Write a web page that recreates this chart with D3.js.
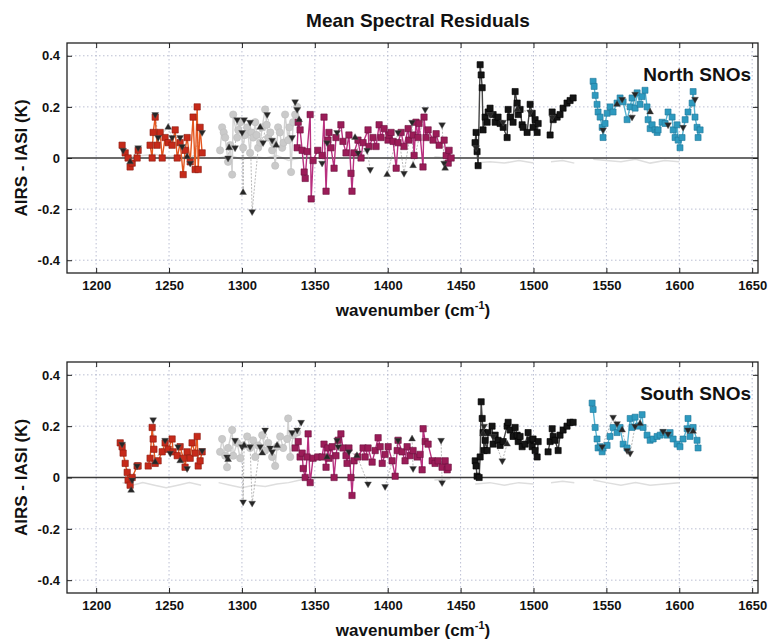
<!DOCTYPE html>
<html><head><meta charset="utf-8">
<script src="https://cdn.jsdelivr.net/npm/d3@7"></script>
<style>body{margin:0;background:#fff}</style>
</head><body><svg id="c" width="768" height="640"></svg>
<script>
// ---------- axes ----------
const xTicks = [1200,1250,1300,1350,1400,1450,1500,1550,1600,1650];
const yTicks = [0.4,0.2,0,-0.2,-0.4];
const yTickLabels = ["0.4","0.2","0","-0.2","-0.4"];
const titleText = "Mean Spectral Residuals";
const yLabelText = "AIRS - IASI (K)";
const panelNames = ["North SNOs","South SNOs"];

// ---------- North SNOs ----------
const redW_N = [1217.8,1219.9,1221.9,1223.3,1224.7,1228.1,1228.8,1237.0,1238.4,1239.1,1240.5,1241.8,1243.9,1245.3,1247.3,1249.4,1252.1,1254.2,1255.6,1257.6,1259.7,1261.0,1262.4,1264.5,1266.5,1267.9,1269.3,1270.0,1271.3,1272.7];
const redV_N = [0.05,0.02,0.0,-0.035,-0.02,0.0,0.03,0.05,0.0,0.1,0.16,0.05,0.1,0.0,0.08,0.06,0.05,0.11,0.0,0.06,-0.065,0.03,0.08,-0.015,0.16,-0.045,0.2,-0.045,0.12,0.02];
const grayW_N = [1285.0,1286.4,1287.5,1288.5,1290.5,1292.0,1293.3,1294.0,1296.7,1297.5,1298.8,1300.8,1302.0,1303.6,1305.6,1306.5,1307.7,1309.1,1310.0,1311.1,1312.5,1313.9,1315.9,1317.0,1318.0,1319.5,1320.7,1321.5,1322.8,1324.8,1326.0,1327.6,1328.5,1329.6,1331.7,1332.5,1333.7,1335.1,1336.5,1337.9];
const grayV_N = [0.03,0.12,0.1,0.08,-0.015,0.05,-0.065,0.17,0.08,0.11,0.14,0.04,0.09,0.12,0.02,0.1,0.08,0.14,0.09,0.04,0.06,0.12,0.19,0.13,0.08,0.1,0.03,0.06,-0.03,0.12,0.1,0.04,0.06,0.17,0.07,0.12,-0.055,0.14,0.17,0.2];
const magW_N = [1337.9,1338.6,1339.9,1341.3,1342.7,1343.4,1344.7,1346.8,1347.5,1348.8,1352.0,1355.0,1356.3,1357.7,1359.0,1359.7,1361.1,1363.2,1364.5,1367.9,1369.3,1371.4,1373.4,1374.8,1375.5,1376.9,1379.6,1381.7,1383.1,1386.5,1387.2,1389.9,1392.0,1394.1,1395.4,1397.5,1400.2,1400.9,1402.3,1403.7,1405.8,1407.1,1409.2,1411.2,1414.0,1414.6,1417.4,1418.1,1419.4,1420.8,1421.5,1424.2,1424.9,1426.3,1427.7,1431.1,1433.2,1435.3,1438.7,1440.1,1441.5,1442.1,1443.5];
const magV_N = [0.04,0.14,0.11,0.03,-0.055,-0.08,0.025,0.17,-0.16,-0.01,0.03,0.01,0.16,-0.13,0.07,0.1,0.04,-0.04,0.08,0.13,0.065,0.02,0.09,-0.06,-0.13,0.02,0.07,0.0,0.06,0.11,0.045,0.08,0.045,0.13,0.08,0.115,0.07,0.09,0.1,0.065,-0.04,0.06,0.1,0.045,0.115,0.07,0.09,0.01,0.14,0.08,0.135,-0.035,0.16,0.08,0.11,0.07,0.095,0.05,0.07,0.01,-0.02,0.03,0.0];
const blkW_N = [1459.9,1460.6,1461.3,1462.0,1463.4,1464.1,1464.8,1465.4,1466.8,1468.2,1468.9,1470.2,1472.3,1473.7,1475.7,1477.1,1479.2,1481.9,1482.6,1484.0,1486.0,1487.4,1488.8,1489.5,1490.8,1492.2,1492.9,1495.6,1497.7,1499.1,1499.7,1501.1,1502.5,1503.2,1511.4,1512.8,1513.5,1516.2,1518.2,1520.3,1523.0,1525.1,1527.2];
const blkV_N = [0.06,0.1,0.025,-0.03,0.365,0.325,0.275,0.11,0.16,0.14,0.18,0.195,0.17,0.14,0.16,0.135,0.12,0.08,0.19,0.16,0.14,0.26,0.215,0.17,0.19,0.13,0.12,0.1,0.21,0.175,0.12,0.15,0.1,0.135,0.09,0.18,0.15,0.16,0.17,0.195,0.215,0.225,0.235];
const tealW_N = [1540.9,1541.6,1542.3,1543.6,1544.3,1545.7,1547.1,1547.7,1549.1,1550.5,1552.5,1554.6,1557.3,1559.4,1561.5,1564.2,1566.3,1567.6,1569.7,1571.1,1573.1,1574.5,1576.5,1577.9,1578.6,1580.0,1581.4,1583.4,1584.8,1585.5,1588.2,1590.3,1592.3,1595.1,1595.8,1597.1,1598.5,1599.2,1600.5,1601.9,1604.0,1606.0,1608.8,1609.5,1610.8,1612.2,1612.9,1614.3];
const tealV_N = [0.3,0.28,0.245,0.21,0.18,0.16,0.12,0.08,0.135,0.175,0.2,0.18,0.215,0.235,0.22,0.15,0.2,0.235,0.195,0.255,0.21,0.24,0.265,0.2,0.15,0.115,0.13,0.11,0.1,0.11,0.14,0.135,0.18,0.16,0.11,0.08,0.13,0.07,0.04,0.08,0.15,0.18,0.215,0.26,0.16,0.12,0.08,0.11];
const triW_N = [1218.5,1223.3,1228.8,1240.5,1242.5,1249.4,1252.1,1257.6,1259.0,1262.4,1264.5,1272.7,1290.5,1291.2,1295.3,1296.7,1300.1,1300.8,1301.5,1305.6,1307.0,1312.5,1314.5,1317.3,1320.7,1323.5,1334.4,1336.5,1337.9,1339.2,1355.0,1358.4,1365.3,1377.6,1379.7,1385.9,1388.0,1399.6,1407.1,1411.2,1416.7,1417.4,1425.7,1437.3,1438.7,1439.4,1460.6,1470.2,1479.2,1488.8,1497.7,1512.8,1547.7,1557.3,1560.8,1567.6,1569.7,1580.0,1592.3,1602.6,1610.8];
const triV_N = [0.03,-0.015,0.04,0.17,0.08,0.12,0.08,0.08,0.045,0.005,-0.02,0.1,0.0,0.04,0.04,0.15,0.1,-0.135,0.15,0.14,-0.21,0.12,0.06,0.17,0.07,0.05,0.08,0.22,0.19,0.15,-0.02,0.06,0.1,0.08,0.02,0.03,-0.045,-0.065,0.1,-0.06,0.14,-0.03,0.19,0.13,-0.02,-0.04,0.04,0.17,0.14,0.19,0.18,0.16,0.11,0.21,0.23,0.16,0.25,0.18,0.13,0.12,0.23];
const faintW = [1218,1225,1232,1240,1248,1256,1264,1272,1284,1292,1300,1308,1316,1324,1332,1340,1348,1360,1372,1384,1396,1408,1420,1432,1443,1460,1470,1480,1490,1500,1512,1520,1528,1541,1550,1560,1570,1580,1590,1600,1613];
const faintV_N = [0.01,0.005,0.01,0.015,0.005,0.01,0.0,0.01,0.0,0.01,-0.005,0.005,0.0,0.01,-0.01,0.0,0.005,0.0,0.01,-0.005,0.005,0.0,-0.01,0.005,0.0,-0.02,-0.015,-0.02,-0.01,-0.02,-0.015,-0.01,-0.02,-0.005,-0.01,-0.015,-0.005,-0.02,-0.01,-0.015,-0.02];

// ---------- South SNOs ----------
const redW_S = [1216.5,1217.8,1218.5,1219.9,1221.3,1221.9,1223.3,1224.7,1228.1,1228.8,1235.7,1237.0,1238.4,1239.1,1239.6,1240.5,1242.5,1245.3,1247.3,1249.4,1252.1,1252.8,1255.6,1257.6,1259.7,1261.0,1262.4,1264.5,1265.8,1267.9,1269.3,1270.0,1271.3,1272.7];
const redV_S = [0.135,0.12,0.095,0.055,0.02,-0.01,-0.03,0.0,0.045,0.045,0.045,0.075,0.195,0.15,0.11,0.055,0.065,0.1,0.135,0.11,0.15,0.1,0.085,0.12,0.075,0.04,0.1,0.075,0.135,0.095,0.16,0.045,0.065,0.1];
const grayW_S = [1285.0,1286.4,1288.5,1289.8,1290.5,1293.3,1294.0,1296.7,1298.8,1300.8,1303.6,1305.6,1307.7,1309.1,1311.1,1313.9,1315.9,1318.0,1320.7,1322.8,1324.1,1326.2,1328.3,1331.0,1331.7,1333.1,1335.1,1337.9];
const grayV_S = [0.1,0.15,0.085,0.04,0.115,0.185,0.085,0.135,0.075,0.125,0.16,0.115,0.145,0.08,0.125,0.165,0.105,0.135,0.08,0.045,0.12,0.16,0.115,0.15,0.23,0.08,0.165,0.175];
const magW_S = [1336.5,1338.6,1339.9,1341.3,1342.0,1343.4,1344.7,1345.4,1346.8,1348.8,1352.0,1355.0,1356.3,1357.7,1359.0,1359.7,1361.9,1363.2,1364.5,1366.0,1367.9,1369.3,1371.4,1372.1,1373.4,1374.8,1375.5,1376.9,1379.6,1383.1,1384.5,1386.5,1389.3,1391.4,1393.4,1394.8,1396.2,1398.2,1400.3,1403.0,1405.1,1406.5,1407.1,1409.9,1411.9,1413.3,1415.4,1417.4,1420.2,1422.2,1423.6,1424.3,1425.7,1427.7,1430.5,1432.5,1434.6,1437.3,1439.4,1440.8,1441.5];
const magV_S = [0.115,0.14,0.08,0.095,0.035,0.0,0.08,0.17,-0.02,0.075,0.08,0.08,0.13,0.04,0.115,0.075,0.12,0.0,0.085,0.145,0.17,0.115,0.085,0.055,0.115,0.0,-0.07,0.065,0.08,0.115,0.08,0.115,0.06,0.105,0.155,0.12,0.055,0.09,0.12,0.065,0.005,0.105,0.145,0.1,0.065,0.12,0.085,0.105,0.08,0.09,0.03,0.19,0.14,0.13,0.065,0.055,0.065,0.04,0.065,0.03,0.04];
const blkW_S = [1460.0,1460.6,1461.3,1462.7,1463.4,1464.1,1464.8,1465.4,1466.1,1466.8,1468.2,1468.9,1471.6,1472.3,1473.7,1475.7,1477.1,1479.2,1481.9,1482.6,1484.0,1486.0,1487.4,1488.8,1489.5,1490.8,1492.2,1494.3,1496.3,1497.7,1499.1,1499.7,1501.1,1502.5,1503.2,1510.0,1511.4,1512.8,1513.5,1514.8,1516.9,1518.2,1520.3,1523.0,1525.1,1527.2];
const blkV_S = [0.065,0.045,0.005,0.0,0.08,0.295,0.23,0.175,0.105,0.145,0.105,0.175,0.2,0.13,0.165,0.145,0.125,0.14,0.2,0.215,0.185,0.16,0.195,0.165,0.14,0.16,0.12,0.13,0.175,0.145,0.12,0.15,0.105,0.08,0.14,0.1,0.14,0.19,0.16,0.145,0.105,0.165,0.185,0.2,0.215,0.215];
const tealW_S = [1540.2,1540.9,1542.3,1543.6,1544.3,1545.7,1547.1,1547.7,1550.5,1552.5,1554.6,1557.3,1559.4,1561.5,1564.2,1566.3,1567.6,1569.7,1571.8,1574.5,1575.2,1577.9,1580.0,1582.1,1584.8,1586.9,1588.9,1591.7,1593.7,1595.8,1598.5,1600.5,1602.6,1605.4,1606.0,1607.4,1609.5,1612.2,1612.9];
const tealV_S = [0.29,0.265,0.195,0.15,0.115,0.12,0.1,0.115,0.125,0.16,0.195,0.175,0.195,0.13,0.115,0.23,0.195,0.235,0.2,0.245,0.195,0.165,0.145,0.15,0.16,0.165,0.175,0.165,0.175,0.15,0.13,0.12,0.15,0.19,0.23,0.16,0.195,0.145,0.115];
const triW_S = [1217.8,1224.0,1224.7,1228.1,1239.1,1240.5,1247.3,1250.8,1256.2,1257.6,1262.4,1272.7,1289.8,1290.5,1295.3,1300.1,1300.8,1301.5,1305.6,1307.0,1312.5,1313.9,1315.9,1319.4,1320.7,1324.1,1334.4,1337.9,1340.6,1358.4,1365.3,1366.0,1373.4,1378.9,1386.5,1398.2,1407.1,1416.7,1417.4,1436.6,1437.3,1465.4,1466.1,1472.3,1478.6,1481.9,1547.1,1554.6,1557.3,1560.8,1564.2,1566.3,1569.7,1573.1,1588.9,1592.3,1606.0,1609.5];
const triV_S = [0.13,-0.05,-0.01,0.045,0.225,0.06,0.145,0.095,0.12,0.065,0.035,0.105,0.08,0.07,0.145,0.12,-0.095,0.125,0.12,-0.1,0.12,0.095,0.185,0.115,0.1,0.125,0.175,0.185,0.215,0.08,0.145,0.12,0.1,0.085,-0.025,-0.035,0.145,0.15,0.035,0.145,-0.02,0.17,0.2,0.16,0.065,0.13,0.12,0.235,0.21,0.185,0.105,0.095,0.2,0.21,0.18,0.17,0.185,0.18];
const faintV_S = [-0.02,-0.03,-0.02,-0.03,-0.04,-0.03,-0.02,-0.03,-0.02,-0.03,-0.04,-0.03,-0.035,-0.025,-0.02,-0.01,0.005,-0.01,0.0,-0.015,-0.005,-0.01,0.0,-0.01,-0.005,-0.025,-0.02,-0.03,-0.02,-0.025,-0.02,-0.015,-0.02,-0.01,-0.02,-0.03,-0.02,-0.03,-0.025,-0.02,-0.03];

// ---------- drawing ----------
const FONT = "'Liberation Sans', Arial, Helvetica, sans-serif";
const svg = d3.select("#c");
const left = 67, right = 758;
const x = d3.scaleLinear().domain([1180, 1654]).range([left, right]);

const styles = {
  red:  {line:"#e4561f", fill:"#c62a1a", stroke:"#8c1b10", sym:d3.symbolSquare, size:40},
  gray: {line:"#d2d2d2", fill:"#cacaca", stroke:"#bdbdbd", sym:d3.symbolCircle, size:42},
  mag:  {line:"#b8307f", fill:"#9b1c58", stroke:"#6c1240", sym:d3.symbolSquare, size:40},
  blk:  {line:"#444444", fill:"#151515", stroke:"#000000", sym:d3.symbolSquare, size:38},
  teal: {line:"#58b4d2", fill:"#2e9abf", stroke:"#1f7698", sym:d3.symbolSquare, size:36}
};

function runs(ws, vs, gap) {
  const pts = ws.map((w, i) => [w, vs[i]]).sort((a, b) => a[0] - b[0]);
  const out = []; let cur = [];
  pts.forEach(p => {
    if (cur.length && p[0] - cur[cur.length - 1][0] > gap) { out.push(cur); cur = []; }
    cur.push(p);
  });
  if (cur.length) out.push(cur);
  return out;
}

svg.append("text").attr("x", 418).attr("y", 27).attr("text-anchor", "middle")
  .attr("font-family", FONT).attr("font-weight", "bold").attr("font-size", 19)
  .attr("fill", "#111").text(titleText);

const panels = [
  {top:43, bottom:273, name:panelNames[0], series:{red:[redW_N,redV_N],gray:[grayW_N,grayV_N],mag:[magW_N,magV_N],blk:[blkW_N,blkV_N],teal:[tealW_N,tealV_N]}, tri:[triW_N,triV_N], faint:[faintW,faintV_N]},
  {top:362, bottom:593, name:panelNames[1], series:{red:[redW_S,redV_S],gray:[grayW_S,grayV_S],mag:[magW_S,magV_S],blk:[blkW_S,blkV_S],teal:[tealW_S,tealV_S]}, tri:[triW_S,triV_S], faint:[faintW,faintV_S]}
];

panels.forEach(P => {
  const y = d3.scaleLinear().domain([-0.45, 0.45]).range([P.bottom, P.top]);
  const g = svg.append("g");
  const line = d3.line().x(d => x(d[0])).y(d => y(d[1]));

  // grid
  g.selectAll(".vg").data(xTicks).enter().append("line")
    .attr("x1", d => x(d)).attr("x2", d => x(d)).attr("y1", P.top).attr("y2", P.bottom)
    .attr("stroke", "#a9afc8").attr("stroke-width", 0.8).attr("stroke-dasharray", "1.5,2.5");
  g.selectAll(".hg").data(yTicks.filter(v => v !== 0)).enter().append("line")
    .attr("x1", left).attr("x2", right).attr("y1", d => y(d)).attr("y2", d => y(d))
    .attr("stroke", "#a9afc8").attr("stroke-width", 0.8).attr("stroke-dasharray", "1.5,2.5");

  // faint near-zero line
  runs(P.faint[0], P.faint[1], 11).forEach(r => {
    g.append("path").attr("d", line(r)).attr("fill", "none")
      .attr("stroke", "#dedede").attr("stroke-width", 1.5);
  });

  // zero line
  g.append("line").attr("x1", left).attr("x2", right).attr("y1", y(0)).attr("y2", y(0))
    .attr("stroke", "#3a3a3a").attr("stroke-width", 1.3);

  // triangle series line
  runs(P.tri[0], P.tri[1], 9).forEach(r => {
    g.append("path").attr("d", line(r)).attr("fill", "none")
      .attr("stroke", "#9a9a9a").attr("stroke-width", 0.7).attr("stroke-dasharray", "2,1.5");
  });

  // coloured series
  Object.keys(P.series).forEach(k => {
    const st = styles[k];
    const [ws, vs] = P.series[k];
    runs(ws, vs, 5).forEach(r => {
      g.append("path").attr("d", line(r)).attr("fill", "none")
        .attr("stroke", st.line).attr("stroke-width", 1.4);
    });
    const pts = ws.map((w, i) => [w, vs[i]]);
    g.selectAll(null).data(pts).enter().append("path")
      .attr("d", d3.symbol().type(st.sym).size(st.size)())
      .attr("transform", d => `translate(${x(d[0])},${y(d[1])})`)
      .attr("fill", st.fill).attr("stroke", st.stroke).attr("stroke-width", 0.6);
  });

  // triangles
  const tpts = P.tri[0].map((w, i) => [w, P.tri[1][i]]);
  g.selectAll(null).data(tpts).enter().append("path")
    .attr("d", d3.symbol().type(d3.symbolTriangle).size(20)())
    .attr("transform", (d, i) => `translate(${x(d[0])},${y(d[1])}) rotate(${i % 4 === 1 ? 0 : 180})`)
    .attr("fill", "#262626").attr("stroke", "#555").attr("stroke-width", 0.4);

  // frame
  g.append("rect").attr("x", left).attr("y", P.top).attr("width", right - left).attr("height", P.bottom - P.top)
    .attr("fill", "none").attr("stroke", "#222").attr("stroke-width", 1.3);

  // axes with inward ticks
  const ax = (axis, tr) => {
    const a = g.append("g").attr("transform", tr).call(axis);
    a.select(".domain").remove();
    a.selectAll("line").attr("stroke", "#222").attr("stroke-width", 1);
    a.selectAll("text").attr("font-family", FONT).attr("font-weight", "bold")
      .attr("font-size", 13).attr("fill", "#111");
    return a;
  };
  ax(d3.axisBottom(x).tickValues(xTicks).tickSize(-5).tickPadding(8).tickFormat(d3.format("d")), `translate(0,${P.bottom})`);
  ax(d3.axisTop(x).tickValues(xTicks).tickSize(-5).tickFormat(""), `translate(0,${P.top})`);
  ax(d3.axisLeft(y).tickValues(yTicks).tickSize(-5).tickPadding(7).tickFormat((d, i) => yTickLabels[i]), `translate(${left},0)`);
  ax(d3.axisRight(y).tickValues(yTicks).tickSize(-5).tickFormat(""), `translate(${right},0)`);

  // x label
  const xl = g.append("text").attr("x", 413).attr("y", P.bottom + 43).attr("text-anchor", "middle")
    .attr("font-family", FONT).attr("font-weight", "bold").attr("font-size", 17).attr("fill", "#111");
  xl.append("tspan").text("wavenumber (cm");
  xl.append("tspan").attr("dy", -7).attr("font-size", 11).text("-1");
  xl.append("tspan").attr("dy", 7).text(")");

  // y label
  g.append("text").attr("transform", `translate(27,${(P.top + P.bottom) / 2}) rotate(-90)`)
    .attr("text-anchor", "middle").attr("font-family", FONT).attr("font-weight", "bold")
    .attr("font-size", 17).attr("fill", "#111").text(yLabelText);

  // panel label
  g.append("text").attr("x", 751).attr("y", P.top + 38).attr("text-anchor", "end")
    .attr("font-family", FONT).attr("font-weight", "bold").attr("font-size", 19)
    .attr("fill", "#111").text(P.name);
});
</script>
</body></html>
